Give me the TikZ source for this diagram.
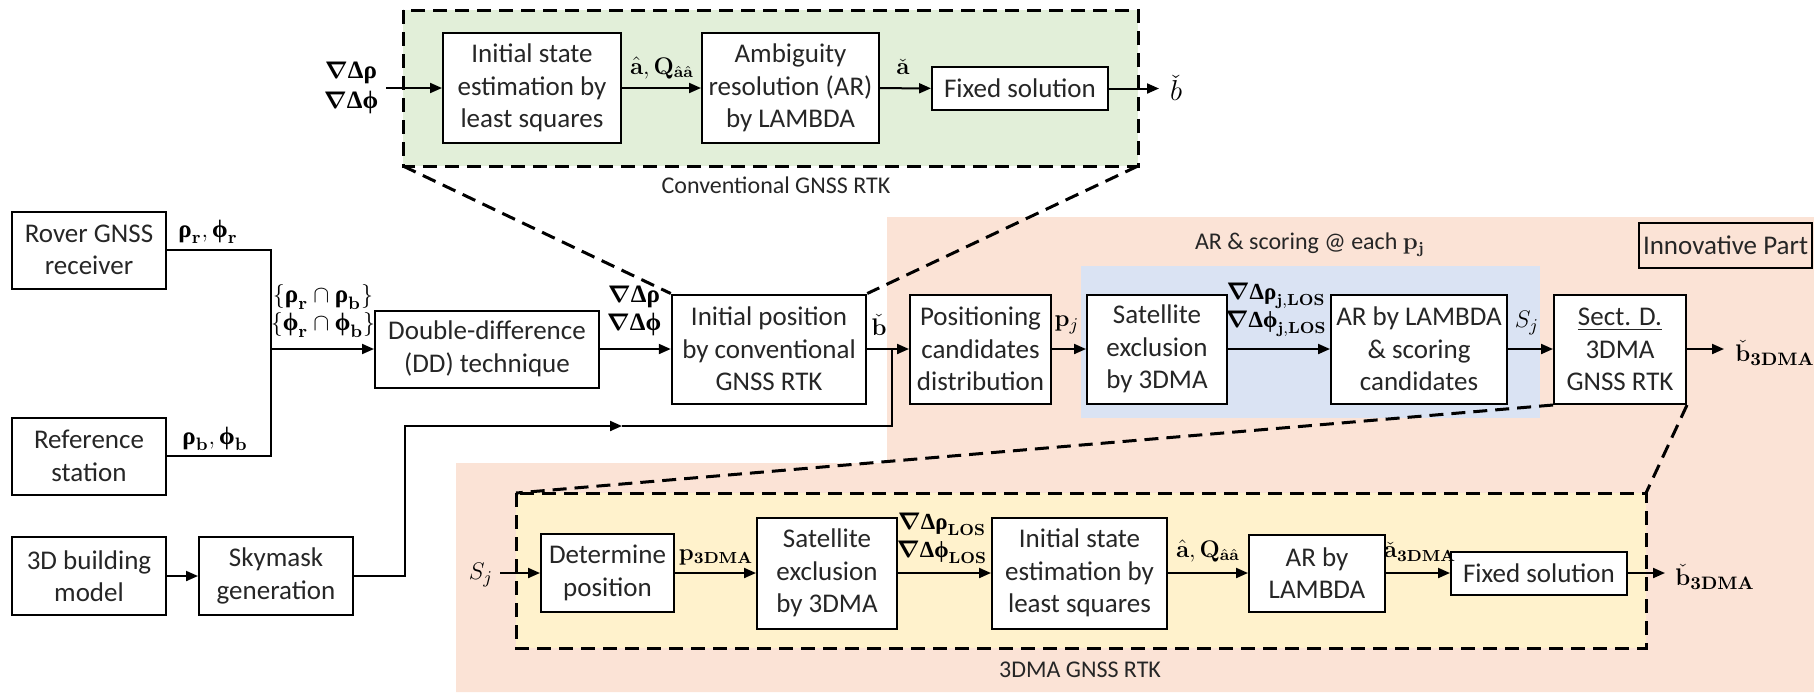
\documentclass[tikz,border=0pt]{standalone}
\usepackage[no-math]{fontspec}
\setmainfont{Carlito}
\newfontfamily\grkfont{Liberation Serif}
\usepackage{amsmath,amssymb}
\usetikzlibrary{arrows.meta}
\definecolor{gfill}{HTML}{E2EFD9}
\definecolor{ofill}{HTML}{FBE3D6}
\definecolor{bfill}{HTML}{DAE3F3}
\definecolor{yfill}{HTML}{FFF2CC}
\newcommand{\boxfnt}{\fontsize{13.5}{16.25}\selectfont}
\newcommand{\labfnt}{\fontsize{11.5}{14}\selectfont}
\newcommand{\biglabfnt}{\fontsize{12.5}{14}\selectfont}
\newcommand{\capfnt}{\fontsize{12}{14}\selectfont}
\newcommand{\brho}{\text{\grkfont\bfseries ρ}}
\newcommand{\bphi}{\text{\grkfont\bfseries ϕ}}
\newcommand{\bDel}{\text{\grkfont\bfseries Δ}}
\newcommand{\bnab}{\boldsymbol{\nabla}}
\tikzset{
  box/.style={draw, line width=1pt, fill=white, align=center, inner sep=0pt, font=\boxfnt, text=black!85},
  arr/.style={line width=1pt, -{Triangle[length=6pt,width=5pt]}},
  ln/.style={line width=1pt},
  dsh/.style={line width=1.5pt, dash pattern=on 7pt off 4pt},
  lab/.style={inner sep=0pt, align=center, font=\labfnt},
  biglab/.style={inner sep=0pt, align=center, font=\biglabfnt},
  captxt/.style={inner sep=0pt, font=\capfnt, text=black!85},
}
\begin{document}
\begin{tikzpicture}[x=0.5pt,y=-0.5pt]
\useasboundingbox (0,0) rectangle (1814,692);
% background regions
\fill[ofill] (887,217) -- (1814,217) -- (1814,692) -- (456,692) -- (456,463) -- (887,463) -- cycle;
\fill[bfill] (1081,266) rectangle (1540,418);
\coordinate (gA) at (403,10); \coordinate (gB) at (1138,166);
\draw[dsh, fill=gfill] (gA) rectangle (gB);
\coordinate (yA) at (516,493); \coordinate (yB) at (1646,648);
\draw[dsh, fill=yfill] (yA) rectangle (yB);
\node[captxt] (gl) at (776,185) {Conventional GNSS RTK};
\node[captxt] (yl) at (1080,670) {3DMA GNSS RTK};
\node[captxt] (al) at (1310,245) {AR \& scoring @ each $\mathbf{p_j}$};
\node[box, fill=none, minimum width=86.5pt, minimum height=22.5pt] (inv) at (1725.5,245.5) {Innovative Part};

% top row (conventional RTK)
\node[biglab] (gin) at (351,88) {$\bnab\bDel\brho$\\[1pt]$\bnab\bDel\bphi$};
\coordinate (ginA) at (386,88);
\node[box, minimum width=89pt, minimum height=55pt] (is1) at (532,88) {Initial state\\estimation by\\least squares};
\node[box, minimum width=88.5pt, minimum height=55pt] (ar1) at (790.5,88) {Ambiguity\\resolution (AR)\\by LAMBDA};
\node[box, minimum width=88pt, minimum height=21.5pt] (fx1) at (1020,88.5) {Fixed solution};
\coordinate (b1) at (1159,88.5);
\node[inner sep=0pt, font=\fontsize{14}{16}\selectfont] (b1l) at (1176,88) {$\check{b}$};
\draw[arr] (ginA) -- (is1);
\draw[arr] (is1) -- (ar1);
\draw[arr] (ar1) -- (fx1);
\draw[arr] (fx1) -- (b1);
\node[lab] (l1) at (662,68) {$\hat{\mathbf{a}},\mathbf{Q}_{\hat{\mathbf{a}}\hat{\mathbf{a}}}$};
\node[lab] (l2) at (903,67) {$\check{\mathbf{a}}$};

% left inputs
\node[box, minimum width=77pt, minimum height=38.5pt] (rov) at (89,250) {Rover GNSS\\receiver};
\node[box, minimum width=77pt, minimum height=38.5pt] (ref) at (89,456) {Reference\\station};
\node[box, minimum width=77pt, minimum height=39pt] (bld) at (89,576) {3D building\\model};
\node[box, minimum width=77pt, minimum height=39pt] (sky) at (276,576) {Skymask\\generation};
\draw[arr] (bld) -- (sky);
\node[biglab] (lr) at (208,232) {$\brho_{\mathbf{r}},\bphi_{\mathbf{r}}$};
\node[biglab] (lb) at (215,439) {$\brho_{\mathbf{b}},\bphi_{\mathbf{b}}$};
\coordinate (jn) at (270.5,349);
\draw[ln] (rov.east) -| (jn) |- (ref.east);

% main row
\node[box, minimum width=112pt, minimum height=38.5pt] (dd) at (487,349) {Double-difference\\(DD) technique};
\draw[arr] (jn) -- (dd);
\node[biglab] (lrb) at (323,311) {$\{\brho_{\mathbf{r}}\cap\brho_{\mathbf{b}}\}$\\$\{\bphi_{\mathbf{r}}\cap\bphi_{\mathbf{b}}\}$};
\node[box, minimum width=97.25pt, minimum height=54.5pt] (ip) at (769,349) {Initial position\\by conventional\\GNSS RTK};
\draw[arr] (dd) -- (ip);
\node[biglab] (ldd) at (634,311) {$\bnab\bDel\brho$\\$\bnab\bDel\bphi$};
\node[box, minimum width=70.5pt, minimum height=54.5pt] (pc) at (980.5,349) {Positioning\\candidates\\distribution};
\coordinate (jn2) at (892,349);
\draw[arr] (ip) -- (pc);
\node[biglab] (lbc) at (879,325) {$\check{\mathbf{b}}$};
\node[box, minimum width=70pt, minimum height=54.5pt] (se1) at (1157,349) {Satellite\\exclusion\\by 3DMA};
\draw[arr] (pc) -- (se1);
\node[biglab] (lpj) at (1067,325) {$\mathbf{p}_j$};
\node[box, minimum width=88pt, minimum height=54.5pt] (ar2) at (1419,349) {AR by LAMBDA\\\& scoring\\candidates};
\draw[arr] (se1) -- (ar2);
\node[lab] (llos1) at (1276,310) {$\bnab\bDel\brho_{\mathbf{j,LOS}}$\\$\bnab\bDel\bphi_{\mathbf{j,LOS}}$};
\node[box, minimum width=66pt, minimum height=54.5pt] (sd) at (1620,349.5) {\underline{Sect. D.}\\3DMA\\GNSS RTK};
\draw[arr] (ar2) -- (sd.west |- ar2);
\node[inner sep=0pt, font=\fontsize{13}{15}\selectfont] (lsj) at (1527,323) {$S_j$};
\coordinate (b2) at (1724,349);
\draw[arr] (sd.east |- b2) -- (b2);
\node[inner sep=0pt, anchor=west, font=\fontsize{13}{15}\selectfont] (lb2) at (1735,353) {$\check{\mathbf{b}}_{\mathbf{3DMA}}$};

% skymask route
\coordinate (sk1) at (405,426); \coordinate (sk2) at (622,426);
\draw[arr] (sky.east) -| (sk1) -- (sk2);
\draw[ln] (sk2) -- (jn2 |- sk1) -- (jn2);

% lower row (3DMA RTK)
\node[inner sep=0pt, font=\fontsize{13}{15}\selectfont] (sj) at (481,575) {$S_j$};
\coordinate (sjA) at (500,573);
\node[box, minimum width=66.5pt, minimum height=39pt] (dp) at (607.5,573) {Determine\\position};
\draw[arr] (sjA) -- (dp);
\node[box, minimum width=70pt, minimum height=55.5pt] (se2) at (827,573) {Satellite\\exclusion\\by 3DMA};
\draw[arr] (dp) -- (se2);
\node[lab] (lp3) at (716,557) {$\mathbf{p}_{\mathbf{3DMA}}$};
\node[box, minimum width=87.5pt, minimum height=55.5pt] (is2) at (1079.5,573) {Initial state\\estimation by\\least squares};
\draw[arr] (se2) -- (is2);
\node[lab] (llos2) at (942,538) {$\bnab\bDel\brho_{\mathbf{LOS}}$\\$\bnab\bDel\bphi_{\mathbf{LOS}}$};
\node[box, minimum width=68pt, minimum height=38.5pt] (ar3) at (1317,573) {AR by\\LAMBDA};
\draw[arr] (is2) -- (ar3);
\node[lab] (l3) at (1208,551) {$\hat{\mathbf{a}},\mathbf{Q}_{\hat{\mathbf{a}}\hat{\mathbf{a}}}$};
\node[box, minimum width=88pt, minimum height=21.5pt] (fx2) at (1539,573) {Fixed solution};
\draw[arr] (ar3) -- (fx2);
\node[lab] (l4) at (1420,552) {$\check{\mathbf{a}}_{\mathbf{3DMA}}$};
\coordinate (b3) at (1665,573);
\draw[arr] (fx2) -- (b3);
\node[inner sep=0pt, anchor=west, font=\fontsize{13}{15}\selectfont] (lb3) at (1675,577) {$\check{\mathbf{b}}_{\mathbf{3DMA}}$};

% dashed zoom connectors
\draw[dsh] (gA |- gB) -- (ip.north west);
\draw[dsh] (gB) -- (ip.north east);
\draw[dsh] (sd.south west) -- (yA);
\draw[dsh] (sd.south east) -- (yB |- yA);
\end{tikzpicture}
\end{document}
